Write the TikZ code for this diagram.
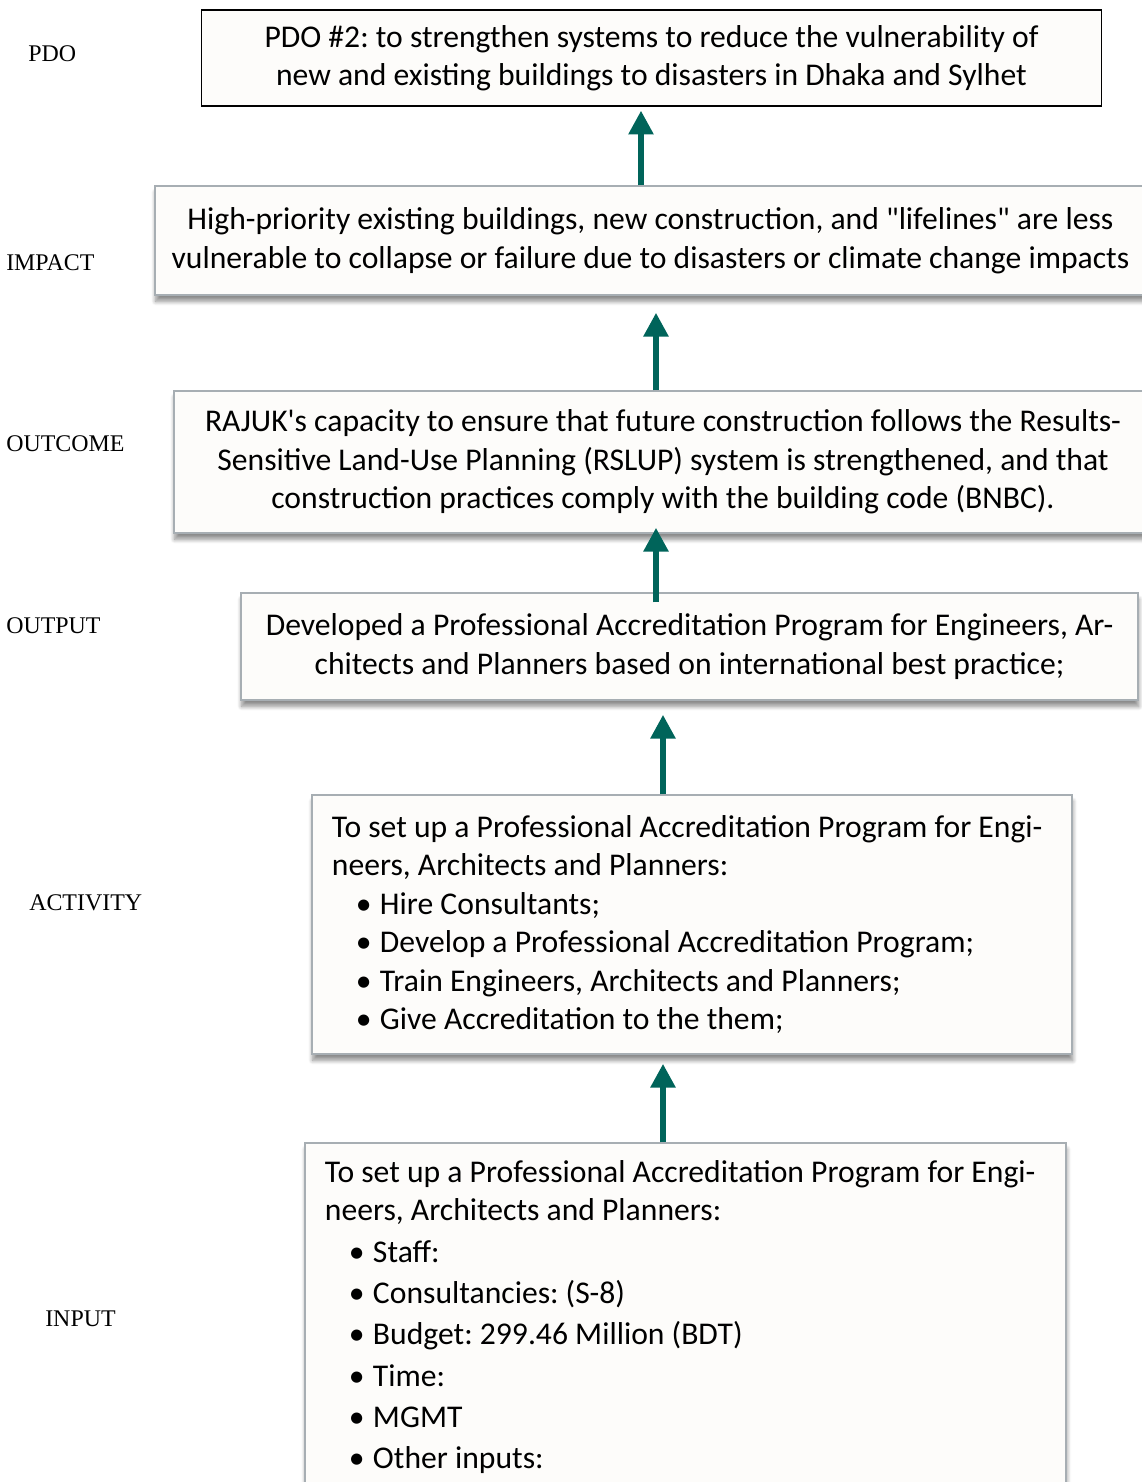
\documentclass[tikz,border=0pt]{standalone}
\usepackage{fontspec}
\setmainfont{Liberation Serif}
\newfontfamily\boxfont{Carlito}
\usetikzlibrary{arrows.meta, positioning, calc, shadows.blur}

\definecolor{paper}{HTML}{FDFCFA}
\definecolor{boxline}{HTML}{A7AEB3}
\definecolor{arrowteal}{HTML}{00645A}

\newcommand\boxtext{\boxfont\fontsize{22.5pt}{27.4pt}\selectfont\frenchspacing}
\newcommand\bitem{\hspace*{17pt}\textbullet\hspace{6pt}}

\begin{document}
\begin{tikzpicture}[x=0.025cm, y=-0.025cm,
    phase/.style={anchor=west, inner sep=0pt, font=\fontsize{17pt}{20pt}\selectfont},
    pdobox/.style={draw=black, line width=0.8pt, fill=paper, align=center, font=\boxtext},
    levelbox/.style={draw=boxline, line width=1pt, fill=paper, align=center, font=\boxtext,
        blur shadow={shadow xshift=0.5pt, shadow yshift=-4.5pt, shadow blur radius=3pt,
            shadow blur steps=8, shadow opacity=45}},
    listbox/.style={levelbox, align=flush left, inner xsep=0.5cm, inner ysep=0pt},
    uparrow/.style={line width=4.6pt, draw=arrowteal, -{Triangle[width=17pt, length=17pt]}}]
\useasboundingbox (0,0) rectangle (1142,1482);
\clip (0,0) rectangle (1142,1482);

% Level names on the left
\foreach \name/\txt/\x/\y in {lpdo/PDO/28/54, limpact/IMPACT/6/263, loutcome/OUTCOME/6/444,
    loutput/OUTPUT/6/626, lactivity/ACTIVITY/29/903, linput/INPUT/45/1319}
    \node[phase] (\name) at (\x,\y) {\txt};

% Results chain boxes
\node[pdobox, minimum width=22.475cm, minimum height=2.4cm] (pdo) at (651.5,58)
    {PDO \#2: to strengthen systems to reduce the vulnerability of\\
     new and existing buildings to disasters in Dhaka and Sylhet};

\node[levelbox, minimum width=24.775cm, minimum height=2.725cm] (impact) at (650.5,240.5)
    {High-priority existing buildings, new construction, and "lifelines" are less\\
     vulnerable to collapse or failure due to disasters or climate change impacts};

\node[levelbox, minimum width=24.45cm, minimum height=3.55cm] (outcome) at (663,462)
    {RAJUK's capacity to ensure that future construction follows the Results-\\
     Sensitive Land-Use Planning (RSLUP) system is strengthened, and that\\
     construction practices comply with the building code (BNBC).};

\node[levelbox, minimum width=22.425cm, minimum height=2.675cm] (output) at (689.5,646.5)
    {Developed a Professional Accreditation Program for Engineers, Ar-\\
     chitects and Planners based on international best practice;};

\node[listbox, text width=18cm, minimum height=6.475cm] (activity) at (692,924.5)
    {To set up a Professional Accreditation Program for Engi-\\
     neers, Architects and Planners:\\
     \bitem Hire Consultants;\\
     \bitem Develop a Professional Accreditation Program;\\
     \bitem Train Engineers, Architects and Planners;\\
     \bitem Give Accreditation to the them;};

\node[listbox, text width=18.025cm, minimum height=8.7cm] (input) at (685.5,1317)
    {To set up a Professional Accreditation Program for Engi-\\
     neers, Architects and Planners:\\[2pt]
     \bitem Staff:\\[2pt]
     \bitem Consultancies: (S-8)\\[2pt]
     \bitem Budget: 299.46 Million (BDT)\\[2pt]
     \bitem Time:\\[2pt]
     \bitem MGMT\\[2pt]
     \bitem Other inputs:};

% Arrows going up the chain
\foreach \n/\x in {a/641, b/656, c/663}
    \coordinate (x\n) at (\x,0);
\draw[uparrow] (impact.north -| xa) -- ($(pdo.south -| xa)+(0,4)$);
\draw[uparrow] (outcome.north -| xb) -- ($(impact.south -| xb)+(0,17)$);
\draw[uparrow] ($(output.north -| xb)+(0,10)$) -- ($(outcome.south -| xb)+(0,-6)$);
\draw[uparrow] (activity.north -| xc) -- ($(output.south -| xc)+(0,14)$);
\draw[uparrow] (input.north -| xc) -- ($(activity.south -| xc)+(0,9)$);
\end{tikzpicture}
\end{document}
